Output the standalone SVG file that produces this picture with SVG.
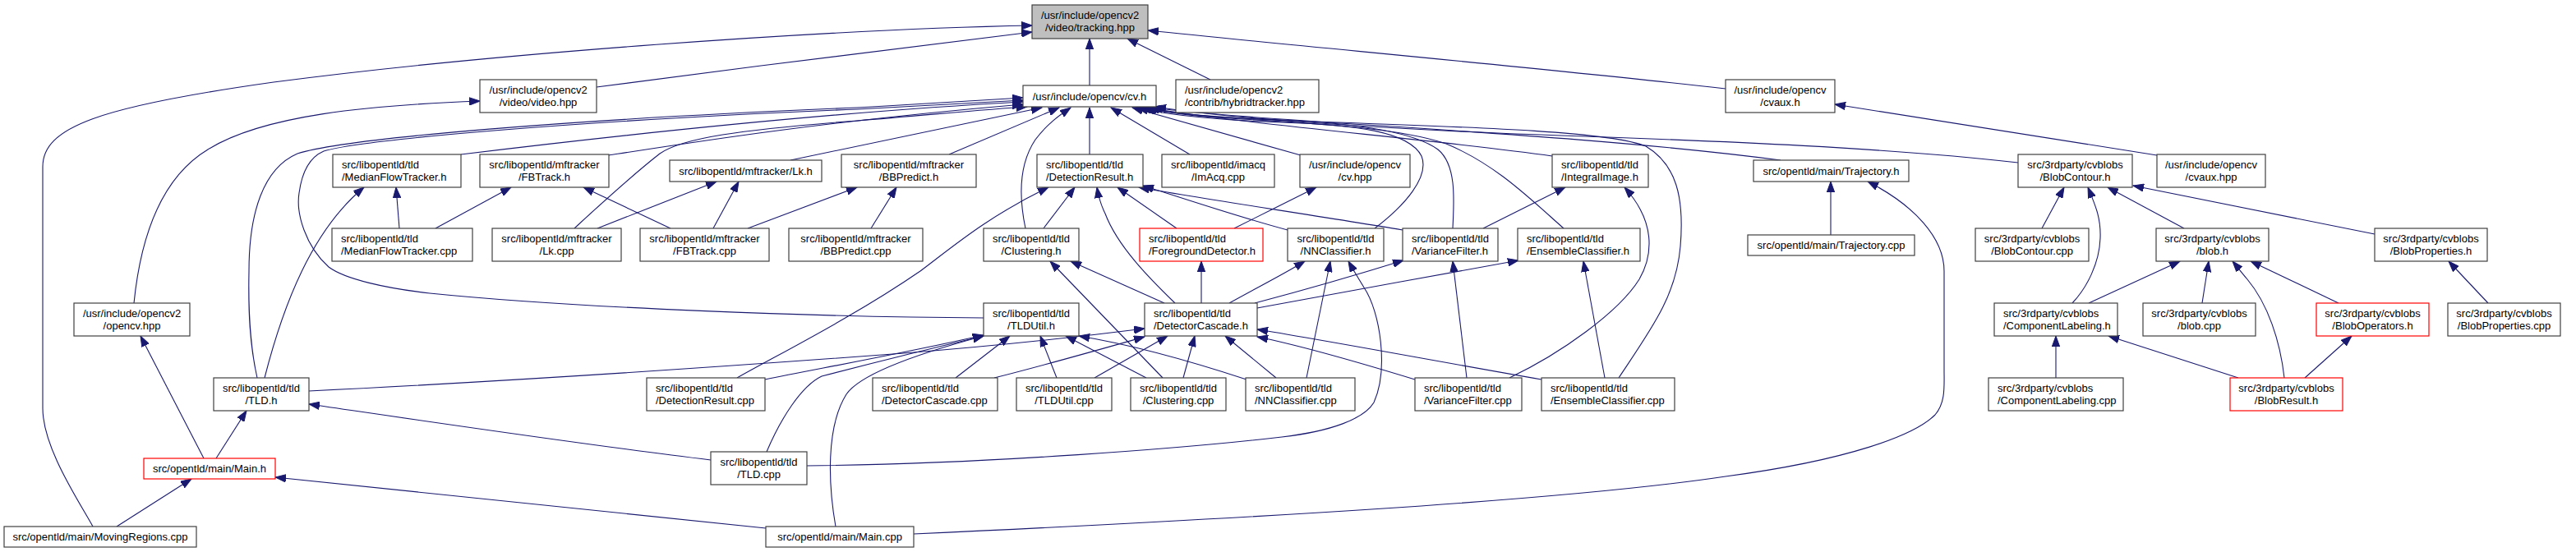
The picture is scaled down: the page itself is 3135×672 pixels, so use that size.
<svg xmlns="http://www.w3.org/2000/svg" width="3135" height="672" viewBox="0 0 3135 672">
<defs>
<marker id="a" markerWidth="14" markerHeight="10" refX="13" refY="5" orient="auto" markerUnits="userSpaceOnUse"><path d="M0,0.3 L13,5 L0,9.7 z" fill="#191970" stroke="#191970" stroke-width="1"/></marker>
<style>
.n rect{fill:#fff;stroke:#404040;stroke-width:1.2}
.r rect{stroke:#ff0000}
.g rect{fill:#bfbfbf}
text{font-family:"Liberation Sans",Arial,Helvetica,sans-serif;font-size:13px;fill:#000}
.c{text-anchor:middle}
.l{text-anchor:start}
#edges path{fill:none;stroke:#191970;stroke-width:1.1;marker-end:url(#a)}
</style>
</defs>
<rect width="3135" height="672" fill="#fff"/>
<g id="edges">
<path d="M1326,104 L1326,47"/>
<path d="M726,106 C900,83 1100,58 1256,39"/>
<path d="M113,641 C96,610 52,545 52,497 L52,203 C52,155 120,130 333,100 C600,65 1000,36 1256,31"/>
<path d="M1473,97 L1372,47"/>
<path d="M2100,108 C1900,85 1600,58 1397,37"/>
<path d="M2625,189 L2233,127"/>
<path d="M163,369 C170,300 190,220 253,182 C320,140 450,128 584,123"/>
<path d="M248,558 L171,409"/>
<path d="M263,558 L300,500"/>
<path d="M142,641 L233,583"/>
<path d="M932,643 C700,620 500,598 335,581"/>
<path d="M322,460 C345,370 380,280 443,228"/>
<path d="M313,460 C304,420 302,380 303,330 C303,260 320,205 362,187 C420,168 700,145 1043,131 C1120,127 1200,122 1245,119"/>
<path d="M1197,387 C1000,386 700,375 523,357 C470,351 420,340 400,325 C372,300 360,260 364,235 C368,205 380,190 394,184 C440,170 700,147 1043,133 C1120,129 1200,124 1245,122"/>
<path d="M561,188 C750,165 1000,137 1245,124"/>
<path d="M741,189 C850,172 1000,148 1245,127"/>
<path d="M699,278 C740,240 780,205 803,187 C830,168 900,158 1043,147 C1130,140 1200,133 1250,130"/>
<path d="M962,195 L1268,131"/>
<path d="M1155,188 L1289,131"/>
<path d="M1248,278 C1240,240 1240,200 1260,170 C1275,150 1290,140 1303,131"/>
<path d="M1326,188 L1326,131"/>
<path d="M1448,188 L1352,131"/>
<path d="M1583,189 L1378,131"/>
<path d="M1673,278 C1710,250 1740,215 1730,190 C1715,160 1650,152 1560,149 C1480,146 1420,140 1384,131"/>
<path d="M1768,278 C1770,240 1772,200 1750,182 C1720,160 1650,150 1560,146 C1480,143 1420,137 1388,131"/>
<path d="M1903,278 C1860,240 1820,200 1760,175 C1700,155 1600,150 1480,143 C1440,140 1412,136 1392,131"/>
<path d="M1889,190 C1750,170 1500,150 1398,131"/>
<path d="M2167,195 C1900,160 1550,150 1402,131"/>
<path d="M2456,198 C2300,180 2100,172 1900,165 C1700,158 1500,145 1406,130"/>
<path d="M1970,460 C2010,400 2040,360 2045,300 C2050,240 2040,200 2003,178 C1960,160 1800,155 1600,148 C1480,144 1420,138 1395,131"/>
<path d="M897,460 C950,430 1040,385 1120,330 C1160,300 1200,265 1276,228"/>
<path d="M1270,278 L1308,228"/>
<path d="M1430,369 C1400,340 1360,300 1345,260 C1340,250 1337,240 1335,228"/>
<path d="M1432,278 L1360,228"/>
<path d="M1707,280 C1600,262 1450,240 1386,228"/>
<path d="M1567,280 C1500,262 1430,238 1391,226"/>
<path d="M1502,278 L1602,228"/>
<path d="M1462,369 L1462,318"/>
<path d="M1417,369 L1303,318"/>
<path d="M1415,460 L1278,318"/>
<path d="M1496,369 C1530,350 1560,335 1588,318"/>
<path d="M1527,369 C1580,355 1650,335 1708,317"/>
<path d="M1530,375 C1620,358 1750,335 1848,317"/>
<path d="M1590,460 L1619,318"/>
<path d="M982,567 C1200,565 1450,545 1560,532 C1620,525 1660,510 1672,490 C1690,450 1680,380 1660,350 C1652,337 1646,327 1641,318"/>
<path d="M1785,460 L1768,318"/>
<path d="M1953,460 L1927,318"/>
<path d="M1837,460 C1900,430 1970,380 1995,340 C2012,310 2015,270 1977,228"/>
<path d="M1805,278 L1905,228"/>
<path d="M1722,462 C1650,440 1580,420 1530,410"/>
<path d="M1876,462 C1750,440 1600,412 1530,401"/>
<path d="M1553,460 L1491,409"/>
<path d="M1517,462 C1450,440 1380,420 1313,409"/>
<path d="M1440,460 L1454,409"/>
<path d="M1395,460 L1297,409"/>
<path d="M1286,460 L1266,409"/>
<path d="M1332,460 L1421,409"/>
<path d="M1163,460 L1229,409"/>
<path d="M1210,460 C1270,445 1340,425 1393,410"/>
<path d="M376,476 C600,465 900,445 1100,430 C1250,418 1330,408 1393,400"/>
<path d="M931,462 C1000,448 1100,430 1197,408"/>
<path d="M933,550 C950,510 975,470 1000,458 C1050,445 1130,425 1197,409"/>
<path d="M1017,641 C1008,590 1005,520 1030,480 C1045,458 1100,435 1197,409"/>
<path d="M1112,650 C1500,632 1900,610 2100,580 C2250,560 2330,530 2355,505 C2368,490 2366,470 2366,450 L2366,330 C2366,290 2330,250 2273,221"/>
<path d="M2228,286 L2228,221"/>
<path d="M486,278 L482,228"/>
<path d="M530,278 L622,228"/>
<path d="M727,278 L872,221"/>
<path d="M816,278 L710,228"/>
<path d="M868,278 L899,221"/>
<path d="M910,278 L1043,228"/>
<path d="M1060,278 L1091,228"/>
<path d="M865,560 C700,540 500,510 376,492"/>
<path d="M2485,278 L2512,228"/>
<path d="M2522,369 C2540,350 2555,320 2556,290 C2557,265 2550,250 2541,228"/>
<path d="M2658,278 L2565,228"/>
<path d="M2890,285 L2596,226"/>
<path d="M2542,369 L2653,318"/>
<path d="M2680,369 L2688,318"/>
<path d="M2780,460 C2775,415 2760,370 2735,340 C2728,332 2723,325 2717,318"/>
<path d="M2846,369 L2739,318"/>
<path d="M2805,460 L2862,409"/>
<path d="M2724,460 L2566,409"/>
<path d="M2502,460 L2502,409"/>
<path d="M3028,369 L2980,318"/>
</g>
<g id="n_tracking" class="n g"><rect x="1256" y="6" width="141" height="41"/><text class="c" x="1326.5" y="22.5">/usr/include/opencv2</text><text class="c" x="1326.5" y="37.5">/video/tracking.hpp</text></g>
<g id="n_video" class="n"><rect x="584" y="97" width="142" height="40"/><text class="c" x="655" y="113.5">/usr/include/opencv2</text><text class="c" x="655" y="128.5">/video/video.hpp</text></g>
<g id="n_cvh" class="n"><rect x="1245" y="104" width="162" height="26"/><text class="c" x="1326" y="121.5">/usr/include/opencv/cv.h</text></g>
<g id="n_hybrid" class="n"><rect x="1431" y="97" width="174" height="40"/><text class="l" x="1442" y="113.5">/usr/include/opencv2</text><text class="l" x="1442" y="128.5">/contrib/hybridtracker.hpp</text></g>
<g id="n_cvauxh" class="n"><rect x="2100" y="97" width="133" height="40"/><text class="c" x="2166.5" y="113.5">/usr/include/opencv</text><text class="c" x="2166.5" y="128.5">/cvaux.h</text></g>
<g id="n_mfth" class="n"><rect x="405" y="188" width="156" height="40"/><text class="l" x="416" y="204.5">src/libopentld/tld</text><text class="l" x="416" y="219.5">/MedianFlowTracker.h</text></g>
<g id="n_fbth" class="n"><rect x="584" y="188" width="157" height="40"/><text class="c" x="662.5" y="204.5">src/libopentld/mftracker</text><text class="c" x="662.5" y="219.5">/FBTrack.h</text></g>
<g id="n_lkh" class="n"><rect x="815" y="195" width="185" height="26"/><text class="c" x="907.5" y="212.5">src/libopentld/mftracker/Lk.h</text></g>
<g id="n_bbph" class="n"><rect x="1024" y="188" width="164" height="40"/><text class="c" x="1106" y="204.5">src/libopentld/mftracker</text><text class="c" x="1106" y="219.5">/BBPredict.h</text></g>
<g id="n_drh" class="n"><rect x="1262" y="188" width="129" height="40"/><text class="l" x="1273" y="204.5">src/libopentld/tld</text><text class="l" x="1273" y="219.5">/DetectionResult.h</text></g>
<g id="n_imacq" class="n"><rect x="1414" y="188" width="137" height="40"/><text class="c" x="1482.5" y="204.5">src/libopentld/imacq</text><text class="c" x="1482.5" y="219.5">/ImAcq.cpp</text></g>
<g id="n_cvhpp" class="n"><rect x="1582" y="188" width="134" height="40"/><text class="c" x="1649" y="204.5">/usr/include/opencv</text><text class="c" x="1649" y="219.5">/cv.hpp</text></g>
<g id="n_iih" class="n"><rect x="1889" y="188" width="117" height="40"/><text class="l" x="1900" y="204.5">src/libopentld/tld</text><text class="l" x="1900" y="219.5">/IntegralImage.h</text></g>
<g id="n_trajh" class="n"><rect x="2134" y="195" width="189" height="26"/><text class="c" x="2228.5" y="212.5">src/opentld/main/Trajectory.h</text></g>
<g id="n_bch" class="n"><rect x="2456" y="188" width="139" height="40"/><text class="c" x="2525.5" y="204.5">src/3rdparty/cvblobs</text><text class="c" x="2525.5" y="219.5">/BlobContour.h</text></g>
<g id="n_cvauxhpp" class="n"><rect x="2625" y="188" width="132" height="40"/><text class="c" x="2691" y="204.5">/usr/include/opencv</text><text class="c" x="2691" y="219.5">/cvaux.hpp</text></g>
<g id="n_mftcpp" class="n"><rect x="404" y="278" width="171" height="40"/><text class="l" x="415" y="294.5">src/libopentld/tld</text><text class="l" x="415" y="309.5">/MedianFlowTracker.cpp</text></g>
<g id="n_lkcpp" class="n"><rect x="599" y="278" width="157" height="40"/><text class="c" x="677.5" y="294.5">src/libopentld/mftracker</text><text class="c" x="677.5" y="309.5">/Lk.cpp</text></g>
<g id="n_fbtcpp" class="n"><rect x="779" y="278" width="157" height="40"/><text class="c" x="857.5" y="294.5">src/libopentld/mftracker</text><text class="c" x="857.5" y="309.5">/FBTrack.cpp</text></g>
<g id="n_bbpcpp" class="n"><rect x="960" y="278" width="163" height="40"/><text class="c" x="1041.5" y="294.5">src/libopentld/mftracker</text><text class="c" x="1041.5" y="309.5">/BBPredict.cpp</text></g>
<g id="n_clh" class="n"><rect x="1197" y="278" width="116" height="40"/><text class="c" x="1255" y="294.5">src/libopentld/tld</text><text class="c" x="1255" y="309.5">/Clustering.h</text></g>
<g id="n_fgdh" class="n r"><rect x="1387" y="278" width="150" height="40"/><text class="l" x="1398" y="294.5">src/libopentld/tld</text><text class="l" x="1398" y="309.5">/ForegroundDetector.h</text></g>
<g id="n_nnh" class="n"><rect x="1567" y="278" width="117" height="40"/><text class="c" x="1625.5" y="294.5">src/libopentld/tld</text><text class="c" x="1625.5" y="309.5">/NNClassifier.h</text></g>
<g id="n_vfh" class="n"><rect x="1707" y="278" width="116" height="40"/><text class="l" x="1718" y="294.5">src/libopentld/tld</text><text class="l" x="1718" y="309.5">/VarianceFilter.h</text></g>
<g id="n_ech" class="n"><rect x="1847" y="278" width="149" height="40"/><text class="l" x="1858" y="294.5">src/libopentld/tld</text><text class="l" x="1858" y="309.5">/EnsembleClassifier.h</text></g>
<g id="n_trajcpp" class="n"><rect x="2127" y="286" width="203" height="25"/><text class="c" x="2228.5" y="303">src/opentld/main/Trajectory.cpp</text></g>
<g id="n_bccpp" class="n"><rect x="2404" y="278" width="138" height="40"/><text class="c" x="2473" y="294.5">src/3rdparty/cvblobs</text><text class="c" x="2473" y="309.5">/BlobContour.cpp</text></g>
<g id="n_blobh" class="n"><rect x="2624" y="278" width="137" height="40"/><text class="c" x="2692.5" y="294.5">src/3rdparty/cvblobs</text><text class="c" x="2692.5" y="309.5">/blob.h</text></g>
<g id="n_bph" class="n"><rect x="2890" y="278" width="137" height="40"/><text class="c" x="2958.5" y="294.5">src/3rdparty/cvblobs</text><text class="c" x="2958.5" y="309.5">/BlobProperties.h</text></g>
<g id="n_ocvhpp" class="n"><rect x="90" y="369" width="141" height="40"/><text class="c" x="160.5" y="385.5">/usr/include/opencv2</text><text class="c" x="160.5" y="400.5">/opencv.hpp</text></g>
<g id="n_tuh" class="n"><rect x="1197" y="369" width="116" height="40"/><text class="c" x="1255" y="385.5">src/libopentld/tld</text><text class="c" x="1255" y="400.5">/TLDUtil.h</text></g>
<g id="n_dch" class="n"><rect x="1393" y="369" width="137" height="40"/><text class="l" x="1404" y="385.5">src/libopentld/tld</text><text class="l" x="1404" y="400.5">/DetectorCascade.h</text></g>
<g id="n_clabh" class="n"><rect x="2427" y="369" width="150" height="40"/><text class="l" x="2438" y="385.5">src/3rdparty/cvblobs</text><text class="l" x="2438" y="400.5">/ComponentLabeling.h</text></g>
<g id="n_blobcpp" class="n"><rect x="2608" y="369" width="137" height="40"/><text class="c" x="2676.5" y="385.5">src/3rdparty/cvblobs</text><text class="c" x="2676.5" y="400.5">/blob.cpp</text></g>
<g id="n_bopsh" class="n r"><rect x="2819" y="369" width="137" height="40"/><text class="c" x="2887.5" y="385.5">src/3rdparty/cvblobs</text><text class="c" x="2887.5" y="400.5">/BlobOperators.h</text></g>
<g id="n_bpcpp" class="n"><rect x="2979" y="369" width="137" height="40"/><text class="c" x="3047.5" y="385.5">src/3rdparty/cvblobs</text><text class="c" x="3047.5" y="400.5">/BlobProperties.cpp</text></g>
<g id="n_tldh" class="n"><rect x="260" y="460" width="116" height="40"/><text class="c" x="318" y="476.5">src/libopentld/tld</text><text class="c" x="318" y="491.5">/TLD.h</text></g>
<g id="n_drcpp" class="n"><rect x="787" y="460" width="144" height="40"/><text class="l" x="798" y="476.5">src/libopentld/tld</text><text class="l" x="798" y="491.5">/DetectionResult.cpp</text></g>
<g id="n_dccpp" class="n"><rect x="1062" y="460" width="152" height="40"/><text class="l" x="1073" y="476.5">src/libopentld/tld</text><text class="l" x="1073" y="491.5">/DetectorCascade.cpp</text></g>
<g id="n_tucpp" class="n"><rect x="1237" y="460" width="116" height="40"/><text class="c" x="1295" y="476.5">src/libopentld/tld</text><text class="c" x="1295" y="491.5">/TLDUtil.cpp</text></g>
<g id="n_clcpp" class="n"><rect x="1376" y="460" width="116" height="40"/><text class="c" x="1434" y="476.5">src/libopentld/tld</text><text class="c" x="1434" y="491.5">/Clustering.cpp</text></g>
<g id="n_nncpp" class="n"><rect x="1516" y="460" width="133" height="40"/><text class="l" x="1527" y="476.5">src/libopentld/tld</text><text class="l" x="1527" y="491.5">/NNClassifier.cpp</text></g>
<g id="n_vfcpp" class="n"><rect x="1722" y="460" width="130" height="40"/><text class="l" x="1733" y="476.5">src/libopentld/tld</text><text class="l" x="1733" y="491.5">/VarianceFilter.cpp</text></g>
<g id="n_eccpp" class="n"><rect x="1876" y="460" width="162" height="40"/><text class="l" x="1887" y="476.5">src/libopentld/tld</text><text class="l" x="1887" y="491.5">/EnsembleClassifier.cpp</text></g>
<g id="n_clabcpp" class="n"><rect x="2420" y="460" width="164" height="40"/><text class="l" x="2431" y="476.5">src/3rdparty/cvblobs</text><text class="l" x="2431" y="491.5">/ComponentLabeling.cpp</text></g>
<g id="n_brh" class="n r"><rect x="2714" y="460" width="137" height="40"/><text class="c" x="2782.5" y="476.5">src/3rdparty/cvblobs</text><text class="c" x="2782.5" y="491.5">/BlobResult.h</text></g>
<g id="n_mainh" class="n r"><rect x="175" y="558" width="160" height="25"/><text class="c" x="255" y="575">src/opentld/main/Main.h</text></g>
<g id="n_tldcpp" class="n"><rect x="865" y="550" width="117" height="40"/><text class="c" x="923.5" y="566.5">src/libopentld/tld</text><text class="c" x="923.5" y="581.5">/TLD.cpp</text></g>
<g id="n_mrcpp" class="n"><rect x="5" y="641" width="234" height="25"/><text class="c" x="122" y="658">src/opentld/main/MovingRegions.cpp</text></g>
<g id="n_maincpp" class="n"><rect x="932" y="641" width="180" height="25"/><text class="c" x="1022" y="658">src/opentld/main/Main.cpp</text></g>
</svg>
